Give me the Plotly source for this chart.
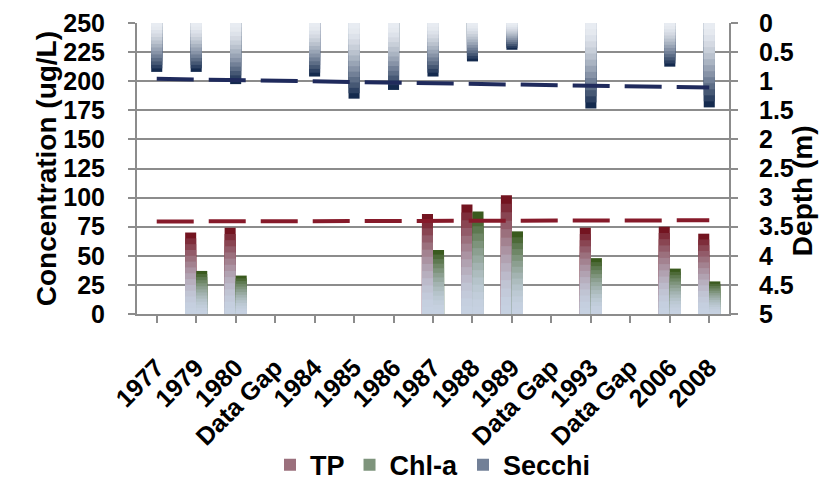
import plotly.graph_objects as go

categories = ["1977", "1979", "1980", "Data Gap", "1984", "1985", "1986", "1987",
              "1988", "1989", "Data Gap", "1993", "Data Gap", "2006", "2008"]
tp = [None, 70, 74, None, None, None, None, 86, 94, 102, None, 74, None, 75, 69]
chla = [None, 37, 33, None, None, None, None, 55, 88, 71, None, 48, None, 39, 28]
secchi = [0.84, 0.84, 1.05, None, 0.92, 1.3, 1.15, 0.92, 0.66, 0.46, None, 1.47, None, 0.75, 1.45]
tp_trend_ends = [79.5, 80.5]
secchi_trend_ends = [0.96, 1.11]
conc_ticks = [0, 25, 50, 75, 100, 125, 150, 175, 200, 225, 250]
depth_ticks = [0, 0.5, 1, 1.5, 2, 2.5, 3, 3.5, 4, 4.5, 5]

pos = list(range(len(categories)))
FONT = "Liberation Sans, Arial, sans-serif"
NSLICE = 14


def hex2rgb(h):
    h = h.lstrip("#")
    return [int(h[i:i + 2], 16) for i in (0, 2, 4)]


def mix(c0, c1, t):
    a, b = hex2rgb(c0), hex2rgb(c1)
    return "rgb(%d,%d,%d)" % tuple(round(a[k] + (b[k] - a[k]) * t) for k in range(3))


def gradient_bars(fig, values, name, rank, c_base, c_end, offset, yaxis="y", power=2.0):
    """Series drawn as overlapping, progressively shorter bars -> colour gradient."""
    for k in range(NSLICE):
        i = NSLICE - 1 - k  # visible slice index (0 = at the axis base)
        t = (i / (NSLICE - 1)) ** power
        frac = (NSLICE - k) / NSLICE
        h = [None if v is None else v * frac for v in values]
        fig.add_trace(go.Bar(
            x=pos, y=h, width=0.28, offset=offset, yaxis=yaxis,
            name=name, legendgroup=name, legendrank=rank,
            showlegend=(k == NSLICE // 3),
            marker=dict(color=mix(c_base, c_end, t), line=dict(width=0)),
            hoverinfo="skip"))


fig = go.Figure()
gradient_bars(fig, tp, "TP", 1, "#c6d1e1", "#731420", -0.28, power=1.8)
gradient_bars(fig, chla, "Chl-a", 2, "#c6d1e1", "#3a5a1e", 0.0, power=1.8)
gradient_bars(fig, secchi, "Secchi", 3, "#e8ecf2", "#142a4e", -0.14, yaxis="y2", power=1.6)

fig.add_trace(go.Scatter(x=[pos[0], pos[-1]], y=tp_trend_ends, mode="lines", showlegend=False,
                         line=dict(color="#861a2a", width=4, dash="37px,15px")))
fig.add_trace(go.Scatter(x=[pos[0], pos[-1]], y=secchi_trend_ends, mode="lines", showlegend=False,
                         yaxis="y2", line=dict(color="#1f2a5c", width=4, dash="37px,15px")))

axis_common = dict(showline=True, linecolor="#8c8c8c", linewidth=2, ticks="outside",
                   tickcolor="#8c8c8c", ticklen=7, tickwidth=2, automargin=False)

fig.update_layout(
    width=839, height=483,
    margin=dict(l=137, r=110, t=23, b=169),
    plot_bgcolor="white", paper_bgcolor="white",
    barmode="overlay",
    font=dict(family=FONT, color="black", size=25, weight="bold"),
    xaxis=dict(range=[-0.5, 14.5], tickvals=pos, ticktext=categories, tickangle=-45,
               showgrid=False, ticklabelstandoff=20,
               tickfont=dict(size=25, family=FONT, weight="bold"), **axis_common),
    yaxis=dict(range=[0, 250], tickvals=conc_ticks,
               showgrid=True, gridcolor="#8c8c8c", gridwidth=1.5, zeroline=False,
               ticklabelstandoff=18,
               tickfont=dict(size=25, family=FONT, weight="bold"), **axis_common),
    yaxis2=dict(range=[5, 0], tickvals=depth_ticks, overlaying="y", side="right",
                showgrid=False, zeroline=False, ticklabelstandoff=16,
                tickfont=dict(size=25, family=FONT, weight="bold"), **axis_common),
    legend=dict(orientation="h", xref="paper", x=0.5, xanchor="center",
                yref="container", y=0.037, yanchor="middle", bgcolor="rgba(0,0,0,0)",
                font=dict(size=27, family=FONT, weight="bold"), itemwidth=30,
                traceorder="normal"),
    annotations=[
        dict(text="Concentration (ug/L)", xref="paper", yref="paper",
             x=-0.182, y=0.5, textangle=-90, showarrow=False,
             font=dict(size=28, family=FONT, weight="bold")),
        dict(text="Depth (m)", xref="paper", yref="paper",
             x=1.155, y=0.423, textangle=-90, showarrow=False,
             font=dict(size=28, family=FONT, weight="bold")),
    ],
)
fig.write_html("out.html", config={"displayModeBar": False},
               post_script="document.body.style.margin='0px';"
                           "document.documentElement.style.overflow='hidden';")
